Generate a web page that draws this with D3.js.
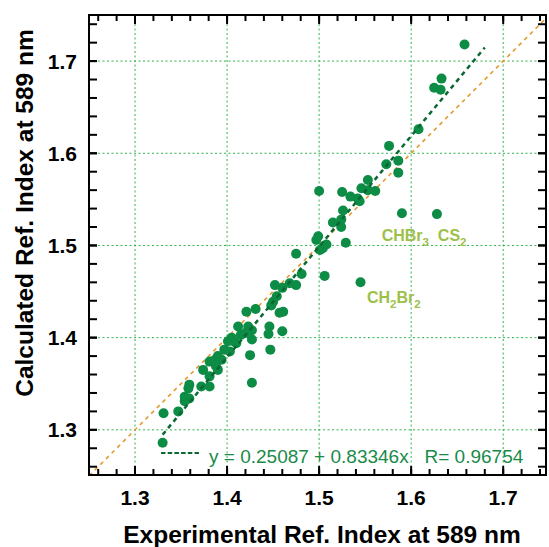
<!DOCTYPE html>
<html>
<head>
<meta charset="utf-8">
<script src="https://cdn.jsdelivr.net/npm/d3@7"></script>
<style>
  body { margin: 0; background: #fff; }
  text { font-family: Arial, "Liberation Sans", sans-serif; }
</style>
</head>
<body>
<div id="chart"></div>
<script>
// experimental vs calculated refractive index
const expIndex = [
  1.658, 1.633, 1.625, 1.632, 1.608, 1.576, 1.586, 1.573, 1.586, 1.553,
  1.546, 1.553, 1.561, 1.500, 1.525, 1.534, 1.542, 1.544, 1.526, 1.590,
  1.628, 1.524, 1.515, 1.524, 1.499, 1.497, 1.508, 1.504, 1.501, 1.529,
  1.475, 1.481, 1.506, 1.545, 1.452, 1.460, 1.468, 1.475, 1.454, 1.450,
  1.448, 1.421, 1.431, 1.461, 1.457, 1.412, 1.423, 1.427, 1.446, 1.445,
  1.460, 1.427, 1.401, 1.407, 1.410, 1.405, 1.415, 1.420, 1.397, 1.403,
  1.447, 1.425, 1.390, 1.387, 1.394, 1.381, 1.388, 1.390, 1.374, 1.381,
  1.359, 1.358, 1.372, 1.381, 1.427, 1.354, 1.359, 1.354, 1.331, 1.347,
  1.330
];
const calcIndex = [
  1.718, 1.681, 1.671, 1.669, 1.626, 1.608, 1.592, 1.588, 1.579, 1.571,
  1.562, 1.560, 1.559, 1.559, 1.558, 1.553, 1.551, 1.548, 1.538, 1.535,
  1.534, 1.528, 1.525, 1.520, 1.510, 1.506, 1.501, 1.497, 1.495, 1.503,
  1.491, 1.469, 1.467, 1.460, 1.457, 1.454, 1.459, 1.457, 1.445, 1.439,
  1.435, 1.428, 1.431, 1.428, 1.427, 1.412, 1.412, 1.408, 1.412, 1.404,
  1.407, 1.398, 1.396, 1.396, 1.394, 1.400, 1.403, 1.405, 1.387, 1.385,
  1.387, 1.381, 1.380, 1.376, 1.376, 1.374, 1.369, 1.365, 1.365, 1.358,
  1.349, 1.345, 1.347, 1.347, 1.351, 1.336, 1.334, 1.331, 1.318, 1.320,
  1.286
];
const majorTicks = [1.3, 1.4, 1.5, 1.6, 1.7];
const tickLabels = ["1.3", "1.4", "1.5", "1.6", "1.7"];
const minorTicks = d3.range(13, 88).map(d => d / 50).filter(d => d > 1.25 && d < 1.75);

// fit reported as exp = a + b * calc
const fitA = 0.25087, fitB = 0.83346, fitR = 0.96754;
const fitRange = [1.33, 1.68];

const labels = [
  { x: 1.568, y: 1.505, main: "CHBr", sub: "3" },
  { x: 1.629, y: 1.505, main: "CS", sub: "2" },
  { x: 1.552, y: 1.438, main: "CH", sub: "2", main2: "Br", sub2: "2" }
];

const W = 549, H = 547;
const mLeft = 89, mRight = 546, mTop = 15, mBottom = 475;

const svg = d3.select("#chart").append("svg")
  .attr("width", W)
  .attr("height", H);

const x = d3.scaleLinear().domain([1.25, 1.7465]).range([mLeft, mRight]);
const y = d3.scaleLinear().domain([1.251, 1.750]).range([mBottom, mTop]);

svg.append("clipPath").attr("id", "plotclip")
  .append("rect")
  .attr("x", mLeft).attr("y", mTop)
  .attr("width", mRight - mLeft).attr("height", mBottom - mTop);

// grid
const gridColor = "#2eb34e";
svg.append("g").selectAll("line").data(majorTicks).join("line")
  .attr("x1", d => x(d)).attr("x2", d => x(d))
  .attr("y1", mTop).attr("y2", mBottom)
  .attr("stroke", gridColor).attr("stroke-width", 1)
  .attr("stroke-dasharray", "2,2.5");
svg.append("g").selectAll("line").data(majorTicks).join("line")
  .attr("y1", d => y(d)).attr("y2", d => y(d))
  .attr("x1", mLeft).attr("x2", mRight)
  .attr("stroke", gridColor).attr("stroke-width", 1)
  .attr("stroke-dasharray", "2,2.5");

const plot = svg.append("g").attr("clip-path", "url(#plotclip)");

// y = x reference line
plot.append("line")
  .attr("x1", x(1.25)).attr("y1", y(1.25))
  .attr("x2", x(1.75)).attr("y2", y(1.75))
  .attr("stroke", "#e39a2c").attr("stroke-width", 1.6)
  .attr("stroke-dasharray", "4,4");

// points
plot.append("g").selectAll("circle").data(expIndex).join("circle")
  .attr("cx", d => x(d))
  .attr("cy", (d, i) => y(calcIndex[i]))
  .attr("r", 5)
  .attr("fill", "#0d8c45");

// fit line
const fitLine = d3.line().x(d => x(d)).y(d => y((d - fitA) / fitB));
plot.append("path")
  .attr("d", fitLine(fitRange))
  .attr("fill", "none")
  .attr("stroke", "#0b6833").attr("stroke-width", 2.5)
  .attr("stroke-dasharray", "4.5,4");

// frame
svg.append("rect")
  .attr("x", mLeft).attr("y", mTop)
  .attr("width", mRight - mLeft).attr("height", mBottom - mTop)
  .attr("fill", "none").attr("stroke", "#000").attr("stroke-width", 2);

// ticks (inward on all four sides)
const tk = svg.append("g").attr("stroke", "#000").attr("stroke-width", 2);
[[majorTicks, 9], [minorTicks, 6]].forEach(([vals, len]) => {
  tk.append("g").selectAll("line").data(vals).join("line")
    .attr("x1", d => x(d)).attr("x2", d => x(d)).attr("y1", mBottom).attr("y2", mBottom - len);
  tk.append("g").selectAll("line").data(vals).join("line")
    .attr("x1", d => x(d)).attr("x2", d => x(d)).attr("y1", mTop).attr("y2", mTop + len);
  tk.append("g").selectAll("line").data(vals).join("line")
    .attr("y1", d => y(d)).attr("y2", d => y(d)).attr("x1", mLeft).attr("x2", mLeft + 8);
  tk.append("g").selectAll("line").data(vals).join("line")
    .attr("y1", d => y(d)).attr("y2", d => y(d)).attr("x1", mRight).attr("x2", mRight - 8);
});

// tick labels
svg.append("g").selectAll("text").data(majorTicks).join("text")
  .attr("x", d => x(d)).attr("y", 505)
  .attr("text-anchor", "middle")
  .attr("font-size", 21).attr("font-weight", "bold")
  .text((d, i) => tickLabels[i]);
svg.append("g").selectAll("text").data(majorTicks).join("text")
  .attr("x", 77).attr("y", d => y(d) + 7.5)
  .attr("text-anchor", "end")
  .attr("font-size", 21).attr("font-weight", "bold")
  .text((d, i) => tickLabels[i]);

// axis titles
svg.append("text")
  .attr("x", 322).attr("y", 543)
  .attr("text-anchor", "middle")
  .attr("font-size", 24.5).attr("font-weight", "bold")
  .text("Experimental Ref. Index at 589 nm");
svg.append("text")
  .attr("transform", "translate(33,213) rotate(-90)")
  .attr("text-anchor", "middle")
  .attr("font-size", 24.5).attr("font-weight", "bold")
  .text("Calculated Ref. Index at 589 nm");

// compound labels
const lab = svg.append("g").selectAll("text").data(labels).join("text")
  .attr("x", d => x(d.x)).attr("y", d => y(d.y))
  .attr("fill", "#9dc04b").attr("font-size", 16).attr("font-weight", "bold");
lab.append("tspan").text(d => d.main);
lab.append("tspan").attr("font-size", 11.5).attr("dy", 5).text(d => d.sub);
lab.filter(d => d.main2).append("tspan").attr("dy", -5).text(d => d.main2);
lab.filter(d => d.sub2).append("tspan").attr("font-size", 11.5).attr("dy", 5).text(d => d.sub2);

// legend
svg.append("line")
  .attr("x1", 161).attr("x2", 201).attr("y1", 453).attr("y2", 453)
  .attr("stroke", "#0b6833").attr("stroke-width", 2)
  .attr("stroke-dasharray", "4.5,2.2");
svg.append("text")
  .attr("x", 209).attr("y", 463)
  .attr("fill", "#1a8a4a").attr("font-size", 19)
  .attr("xml:space", "preserve")
  .text(`y = ${fitA} + ${fitB}x   R= ${fitR}`);
</script>
</body>
</html>
